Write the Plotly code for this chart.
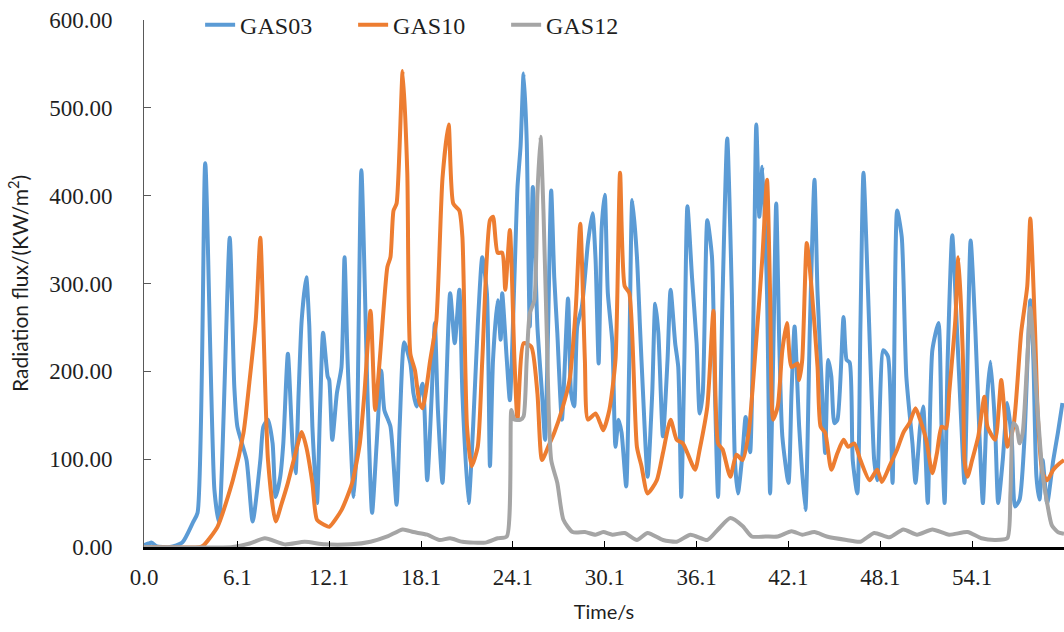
import plotly.graph_objects as go

# ---- GAS03 ----
gas03_t = [0.0, 0.3, 0.5, 0.8, 1.7, 2.5, 3.2, 3.5, 4.0, 4.6, 4.9, 5.6, 5.9, 6.1, 6.7, 7.1,
           7.6, 7.8, 8.1, 8.4, 8.6, 8.9, 9.1, 9.4, 9.7, 9.9, 10.1, 10.3, 10.6, 10.8, 11.0, 11.3,
           11.5, 11.7, 12.0, 12.1, 12.3, 12.6, 12.9, 13.1, 13.3, 13.7, 13.9, 14.2, 14.6, 14.9,
           15.2, 15.5, 15.7, 16.1, 16.5, 16.7, 17.0, 17.4, 17.6, 17.8, 18.2, 18.5, 18.8, 19.0,
           19.2, 19.5, 20.0, 20.3, 20.6, 20.8, 21.2, 21.5, 21.8, 22.1, 22.4, 22.6, 22.8, 23.1,
           23.3, 23.4, 23.7, 23.9, 24.2, 24.4, 24.6, 24.8, 25.0, 25.2, 25.4, 25.7, 26.0, 26.2,
           26.4, 26.6, 26.8, 27.0, 27.3, 27.7, 27.9, 28.1, 28.3, 28.6, 28.8, 29.0, 29.3, 29.5,
           29.7, 29.9, 30.1, 30.3, 30.6, 30.8, 31.0, 31.2, 31.5, 31.7, 31.9, 32.2, 32.4, 32.6,
           32.9, 33.2, 33.4, 33.6, 33.9, 34.2, 34.4, 34.7, 34.9, 35.1, 35.3, 35.5, 35.8, 36.1,
           36.3, 36.5, 36.8, 37.1, 37.3, 37.5, 37.8, 38.1, 38.4, 38.6, 38.8, 39.1, 39.3, 39.5,
           39.6, 39.8, 40.0, 40.2, 40.4, 40.7, 40.9, 41.1, 41.3, 41.5, 41.7, 42.1, 42.3, 42.5,
           42.8, 43.2, 43.5, 43.8, 44.0, 44.3, 44.5, 44.7, 44.9, 45.1, 45.3, 45.7, 45.9, 46.1,
           46.3, 46.6, 46.8, 47.0, 47.3, 47.6, 47.7, 47.9, 48.3, 48.6, 48.9, 49.2, 49.5, 49.8,
           50.2, 50.4, 50.7, 50.9, 51.2, 51.5, 51.9, 52.1, 52.3, 52.5, 52.8, 53.1, 53.4, 53.6,
           54.0, 54.3, 54.6, 54.8, 55.1, 55.3, 55.6, 55.8, 56.1, 56.4, 56.7, 56.9, 57.2, 57.5,
           57.9, 58.1, 58.3, 58.5, 58.7, 59.0, 59.4, 59.7, 60.0]
gas03_v = [2, 4, 5, 1, 0, 5, 28, 39, 437, 65, 28, 352, 182, 137, 99, 29,
           99, 137, 145, 118, 57, 80, 118, 220, 118, 84, 175, 258, 307, 251, 137, 50,
           156, 244, 194, 190, 122, 175, 205, 330, 213, 57, 118, 429, 175, 39,
           118, 201, 156, 137, 48, 137, 233, 209, 175, 160, 186, 76, 175, 255,
           156, 73, 289, 232, 293, 175, 50, 137, 251, 330, 289, 92, 213, 281,
           236, 289, 213, 167, 307, 410, 456, 539, 463, 251, 410, 251, 175, 122,
           251, 406, 307, 244, 145, 283, 175, 160, 251, 273, 307, 346, 380, 327,
           209, 364, 401, 289, 232, 114, 145, 130, 69, 213, 395, 331, 251, 175,
           80, 175, 277, 244, 126, 213, 293, 232, 205, 57, 213, 388, 307, 232,
           152, 175, 372, 331, 175, 57, 289, 465, 289, 99, 61, 107, 148, 118,
           108, 251, 481, 376, 433, 289, 61, 213, 391, 232, 126, 73, 175, 251,
           137, 42, 251, 418, 289, 175, 107, 213, 194, 141, 145, 262, 213, 210,
           99, 61, 251, 426, 289, 137, 99, 76, 224, 217, 73, 383, 353, 194,
           118, 73, 137, 160, 50, 224, 255, 137, 50, 213, 355, 251, 137, 73,
           349, 251, 118, 50, 175, 211, 137, 50, 99, 164, 118, 46, 54, 118,
           281, 213, 80, 54, 99, 50, 99, 130, 164]

# ---- GAS10 ----
gas10_t = [0.0, 3.7, 3.9, 4.8, 5.8, 6.5, 6.9, 7.3, 7.4, 7.6, 8.1, 8.6, 9.0, 9.4, 9.9, 10.3,
           10.6, 11.0, 11.3, 11.8, 12.1, 12.9, 13.6, 14.1, 14.4, 14.8, 15.1, 15.4, 15.9, 16.1,
           16.3, 16.5, 16.9, 17.2, 17.4, 17.7, 18.0, 18.2, 18.7, 19.1, 19.5, 19.9, 20.2, 20.6,
           20.8, 21.1, 21.4, 21.8, 22.1, 22.6, 22.8, 23.1, 23.4, 23.6, 23.9, 24.2, 24.4, 24.8,
           25.3, 25.7, 26.0, 26.4, 26.8, 27.3, 27.8, 28.2, 28.5, 28.8, 29.0, 29.5, 29.8, 30.0,
           30.4, 30.8, 31.1, 31.4, 31.7, 32.2, 32.5, 32.9, 33.5, 33.9, 34.4, 34.8, 35.2, 35.5,
           36.0, 36.3, 36.8, 37.2, 37.5, 37.8, 38.3, 38.7, 39.1, 39.5, 39.9, 40.4, 40.7, 40.9,
           41.1, 41.4, 41.7, 42.0, 42.3, 42.7, 42.8, 43.0, 43.3, 43.6, 44.0, 44.2, 44.5, 44.9,
           45.3, 45.7, 46.0, 46.4, 46.8, 47.4, 47.9, 48.2, 48.7, 49.2, 49.6, 50.0, 50.4, 50.7,
           51.1, 51.5, 51.8, 52.1, 52.4, 52.6, 53.0, 53.2, 53.5, 53.6, 53.8, 54.1, 54.5, 54.9,
           55.1, 55.6, 56.0, 56.2, 56.4, 56.8, 57.3, 57.7, 57.9, 58.2, 58.4, 58.7, 59.0, 59.4,
           59.8, 60.1]
gas10_v = [0, 0, 2, 23, 76, 130, 190, 258, 289, 352, 99, 29, 50, 73, 107, 131,
           114, 73, 31, 25, 23, 42, 73, 118, 175, 269, 156, 213, 319, 330,
           383, 391, 542, 426, 220, 201, 164, 158, 213, 258, 420, 481, 391, 383,
           353, 137, 92, 114, 213, 372, 376, 335, 335, 293, 361, 213, 145, 232,
           228, 175, 99, 114, 130, 156, 190, 270, 368, 213, 145, 152, 141, 133,
           156, 213, 426, 297, 289, 114, 92, 61, 76, 107, 145, 122, 118, 107,
           88, 111, 160, 269, 118, 111, 80, 105, 99, 130, 213, 331, 418, 289,
           145, 160, 224, 255, 205, 209, 190, 213, 346, 297, 205, 137, 130, 88,
           107, 122, 114, 118, 99, 76, 88, 74, 92, 111, 130, 141, 158, 145,
           122, 84, 107, 137, 135, 175, 258, 330, 213, 99, 80, 99, 126, 171,
           137, 122, 190, 156, 114, 137, 244, 297, 374, 251, 145, 84, 76, 88,
           95, 99]

# ---- GAS12 ----
gas12_t = [0.0, 5.8, 6.9, 7.9, 9.2, 10.5, 11.8, 13.5, 14.8, 15.9, 16.9, 17.6, 18.5, 19.3,
           20.0, 20.8, 22.3, 23.1, 23.7, 24.0, 24.2, 24.6, 24.8, 25.0, 25.2, 25.5, 25.7,
           25.9, 26.1, 26.3, 26.6, 27.0, 27.4, 28.0, 28.8, 29.5, 30.0, 30.6, 31.4, 32.2,
           32.9, 33.9, 34.8, 35.7, 36.8, 37.5, 38.3, 39.1, 39.7, 40.6, 41.4, 42.3, 43.0,
           43.8, 44.6, 45.9, 46.8, 47.7, 48.7, 49.6, 50.5, 51.5, 52.6, 53.8, 54.7, 55.6,
           56.4, 56.6, 56.8, 57.0, 57.2, 57.4, 57.7, 57.9, 58.1, 58.3, 58.7, 59.0, 59.3,
           59.7, 60.1]
gas12_v = [0, 0, 4, 10, 3, 6, 3, 3, 6, 12, 20, 17, 14, 8,
           10, 6, 5, 10, 12, 156, 145, 145, 149, 213, 266, 281, 401,
           467, 380, 251, 99, 73, 31, 17, 17, 14, 17, 14, 16, 8,
           16, 8, 6, 14, 8, 20, 33, 24, 12, 12, 12, 18, 14,
           17, 12, 8, 6, 16, 11, 20, 14, 20, 14, 17, 10, 8,
           10, 61, 141, 137, 118, 130, 213, 272, 232, 175, 84, 50, 25,
           17, 15]

x_ticks = [0.0, 6.1, 12.1, 18.1, 24.1, 30.1, 36.1, 42.1, 48.1, 54.1]
x_tick_text = ["0.0", "6.1", "12.1", "18.1", "24.1", "30.1", "36.1", "42.1", "48.1", "54.1"]
y_ticks = [0, 100, 200, 300, 400, 500, 600]

series = [
    ("GAS03", gas03_t, gas03_v, "#5B9BD5"),
    ("GAS10", gas10_t, gas10_v, "#ED7D31"),
    ("GAS12", gas12_t, gas12_v, "#A5A5A5"),
]

fig = go.Figure()
for name, t, v, color in series:
    fig.add_trace(go.Scatter(
        x=t, y=v, name=name, mode="lines",
        line=dict(color=color, width=4, shape="spline", smoothing=0.6),
    ))

serif = "Liberation Serif"
sans = "Lato"
text_color = "#1f1f1f"

fig.update_layout(
    width=1064, height=632,
    margin=dict(l=144, r=0, t=20, b=85),
    paper_bgcolor="white", plot_bgcolor="white",
    showlegend=True,
    legend=dict(
        orientation="h", x=0.061, y=0.99, xanchor="left", yanchor="middle",
        font=dict(family=serif, size=24, color=text_color),
        bgcolor="rgba(0,0,0,0)", entrywidth=108, tracegroupgap=0,
    ),
    xaxis=dict(
        range=[0, 60.1], tickmode="array", tickvals=x_ticks, ticktext=x_tick_text,
        ticks="inside", ticklen=6, tickwidth=1, tickcolor="#000000",
        showline=True, linecolor="#000000", linewidth=2.5,
        showgrid=False, zeroline=False,
        tickfont=dict(family=serif, size=23, color=text_color, weight="normal"),
        ticklabelstandoff=8,
        title=dict(text="Time/s", font=dict(family=sans, size=20, color=text_color), standoff=16),
    ),
    yaxis=dict(
        range=[0, 600], tickmode="array", tickvals=y_ticks,
        tickformat=".2f",
        ticks="inside", ticklen=7, tickwidth=1, tickcolor="#595959",
        showline=True, linecolor="#595959", linewidth=1,
        showgrid=False, zeroline=False,
        tickfont=dict(family=serif, size=23, color=text_color, weight="normal"),
        ticklabelstandoff=26,
        title=dict(text="Radiation flux/(KW/m<sup>2</sup>)",
                   font=dict(family=sans, size=21, color=text_color), standoff=14),
    ),
)

fig.write_html("out.html")
